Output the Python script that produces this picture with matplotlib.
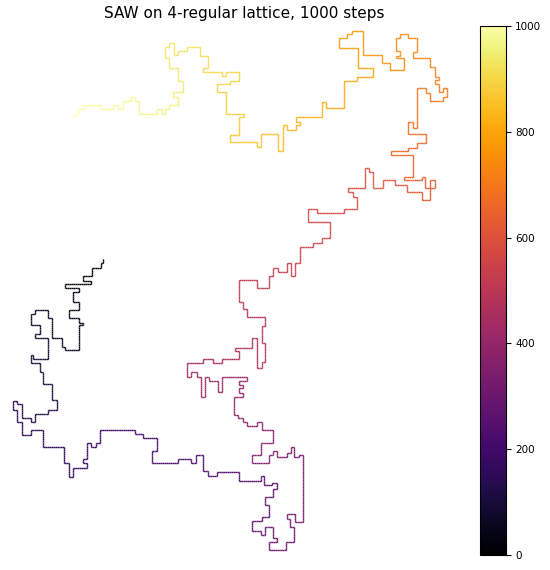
import numpy as np
import matplotlib
matplotlib.use("Agg")
import matplotlib.pyplot as plt
from matplotlib.collections import LineCollection
from matplotlib.colors import Normalize

# Walk vertices (corners of the lattice path), in drawing units.
walk_x = [103.3,103.3,100.7,100.7,91.7,91.7,83.3,83.3,90.7,90.7,65,65,78.7,78.7,73.3,73.3,79,79,69.3,69.3,79,79,82.7,82.7,79,79,65,65,61.7,61.7,52.3,52.3,47.7,47.7,35,35,30.7,30.7,40,40,35,35,47.7,47.7,33.3,33.3,30.7,30.7,40,40,43.3,43.3,52.3,52.3,56.7,56.7,48.3,48.3,35,35,30.7,30.7,22.3,22.3,17.3,17.3,13.3,13.3,17.3,17.3,22.3,22.3,30.7,30.7,43.3,43.3,64.3,64.3,69.3,69.3,73.3,73.3,86.7,86.7,82.7,82.7,86.7,86.7,90.7,90.7,96,96,100,100,135,135,143.3,143.3,156.7,156.7,152.3,152.3,178.3,178.3,191,191,195.7,195.7,203.3,203.3,208.3,208.3,217.3,217.3,239,239,260.7,260.7,264,264,271.7,271.7,277.3,277.3,273.3,273.3,265,265,269.3,269.3,261.7,261.7,252.3,252.3,260.7,260.7,265,265,273.3,273.3,277.3,277.3,269.3,269.3,286,286,294,294,290,290,286.7,286.7,295,295,303.3,303.3,299.3,299.3,294.3,294.3,290.7,290.7,286.7,286.7,277.3,277.3,273.3,273.3,269,269,252.3,252.3,260.7,260.7,273.3,273.3,261.7,261.7,256.7,256.7,247.3,247.3,242.7,242.7,238.3,238.3,234.3,234.3,242.7,242.7,239,239,242.7,242.7,239,239,247.3,247.3,221.7,221.7,217.7,217.7,209.3,209.3,205,205,200.7,200.7,196.7,196.7,191,191,186.7,186.7,203.3,203.3,213.3,213.3,221.7,221.7,239,239,235,235,251.7,251.7,257.3,257.3,261.7,261.7,265,265,261.7,261.7,265,265,247.3,247.3,243.3,243.3,239,239,256.7,256.7,269.3,269.3,273.3,273.3,278.3,278.3,286.7,286.7,290.7,290.7,295,295,300,300,312.7,312.7,321.7,321.7,330,330,308.3,308.3,316.7,316.7,344,344,356.7,356.7,352.7,352.7,347.7,347.7,364.5,364.5,369.3,369.3,373.3,373.3,382.7,382.7,395,395,407.3,407.3,421.7,421.7,429.5,429.5,435,435,425,425,421.7,421.7,404,404,412.7,412.7,390.7,390.7,408.3,408.3,417.3,417.3,426,426,408.3,408.3,412.7,412.7,417.3,417.3,426,426,430,430,443.3,443.3,447.3,447.3,443.3,443.3,439.3,439.3,435,435,439.3,439.3,435,435,430,430,412.7,412.7,417.3,417.3,408.3,408.3,400,400,395.7,395.7,400,400,395.7,395.7,404,404,390,390,381.7,381.7,363.3,363.3,351.7,351.7,347.3,347.3,339.3,339.3,358,358,373.3,373.3,356.7,356.7,344,344,326,326,321.7,321.7,296,296,300,300,296,296,286.7,286.7,282.7,282.7,278.3,278.3,260.7,260.7,256.7,256.7,230,230,239.3,239.3,244,244,225.7,225.7,217.3,217.3,230,230,239.3,239.3,225.7,225.7,222.3,222.3,203.3,203.3,208.3,208.3,200,200,186.7,186.7,178.3,178.3,174,174,169.3,169.3,165,165,169.3,169.3,178.3,178.3,183.3,183.3,173.3,173.3,178.3,178.3,169.3,169.3,165,165,161.7,161.7,156.7,156.7,139.3,139.3,135,135,130.7,130.7,122.7,122.7,118.3,118.3,113.3,113.3,100.7,100.7,83.3,83.3,78.3,78.3,74,74]
walk_y = [259.3,263.3,263.3,268.3,268.3,276,276,281,281,284,284,288.3,288.3,292.3,292.3,301.7,301.7,310,310,318.3,318.3,322.7,322.7,325.3,325.3,350,350,347.3,347.3,338.3,338.3,317.7,317.7,310,310,314,314,325,325,334,334,338.3,338.3,358.7,358.7,355.3,355.3,363.3,363.3,371.7,371.7,384,384,400,400,410,410,414.3,414.3,421.7,421.7,417.7,417.7,404.3,404.3,401,401,410,410,422.3,422.3,435,435,430,430,447.3,447.3,462.7,462.7,476.7,476.7,468.3,468.3,463.3,463.3,459.3,459.3,442.7,442.7,447.3,447.3,442.7,442.7,430,430,434.3,434.3,438.3,438.3,451,451,463.3,463.3,459,459,463.3,463.3,455,455,470.7,470.7,475.7,475.7,471.7,471.7,480.7,480.7,476,476,485,485,483.3,483.3,489.3,489.3,496.7,496.7,505,505,516.7,516.7,520.7,520.7,530.7,530.7,535,535,526.7,526.7,538.3,538.3,541.7,541.7,550,550,541.7,541.7,526.7,526.7,519.3,519.3,514,514,521.7,521.7,455,455,456.7,456.7,447.3,447.3,453,453,456.7,456.7,450.7,450.7,455,455,463.3,463.3,455,455,442.7,442.7,430,430,421.7,421.7,425.7,425.7,421.7,421.7,417.7,417.7,415,415,396.7,396.7,393.3,393.3,388.3,388.3,385,385,381,381,376.7,376.7,391.7,391.7,381,381,376.7,376.7,396.7,396.7,376.7,376.7,371.7,371.7,376.7,376.7,363.3,363.3,359.3,359.3,363.3,363.3,359.3,359.3,351,351,348.3,348.3,338.3,338.3,368.3,368.3,361.7,361.7,343.3,343.3,325.7,325.7,317.3,317.3,309.3,309.3,301.7,301.7,280,280,288.3,288.3,276,276,267.7,267.7,271.7,271.7,263.3,263.3,276,276,263.3,263.3,247.3,247.3,242.7,242.7,238.3,238.3,221.7,221.7,209.3,209.3,213.3,213.3,209.3,209.3,196.7,196.7,192.3,192.3,188.3,188.3,168.3,168.3,171.7,171.7,188.3,188.3,180,180,184.5,184.5,191.7,191.7,200,200,180,180,188.3,188.3,176.7,176.7,180,180,176.7,176.7,155,155,151,151,147.7,147.7,143.3,143.3,134,134,122.3,122.3,128,128,88.3,88.3,93.3,93.3,101,101,96.7,96.7,88.3,88.3,92.3,92.3,84.3,84.3,80,80,76.7,76.7,66.7,66.7,58.3,58.3,51.7,51.7,38.3,38.3,34.3,34.3,38.3,38.3,51,51,55.7,55.7,58.3,58.3,70,70,63.3,63.3,55,55,30.7,30.7,34.3,34.3,38.3,38.3,48.3,48.3,68.3,68.3,76.7,76.7,81,81,108.3,108.3,101.7,101.7,116.7,116.7,121.7,121.7,125,125,130,130,125,125,151,151,134.3,134.3,146.7,146.7,142.3,142.3,135,135,117.3,117.3,114,114,92.3,92.3,84,84,80.7,80.7,71.7,71.7,76,76,71.7,71.7,68.3,68.3,56,56,47.3,47.3,50.7,50.7,55,55,43.3,43.3,47.3,47.3,58.3,58.3,68.3,68.3,80.7,80.7,92.3,92.3,96.7,96.7,105,105,109.3,109.3,114,114,109.3,109.3,114,114,100.7,100.7,96.7,96.7,100.7,100.7,109.3,109.3,105,105,109.3,109.3,105,105,109.3,109.3,114,114,117.3]

n_steps = 1000
cbar_ticks = [0, 200, 400, 600, 800, 1000]
title = "SAW on 4-regular lattice, 1000 steps"

n = min(len(walk_x), len(walk_y))
x = np.asarray(walk_x[:n], float)
y = np.asarray(walk_y[:n], float)

# split each corner-to-corner run into short pieces so the colour varies along the path
px, py = [x[0]], [y[0]]
for i in range(1, n):
    L = np.hypot(x[i] - x[i-1], y[i] - y[i-1])
    k = max(1, int(np.ceil(L / 2.0)))
    t = np.linspace(0, 1, k + 1)[1:]
    px.extend(x[i-1] + (x[i] - x[i-1]) * t)
    py.extend(y[i-1] + (y[i] - y[i-1]) * t)
px = np.array(px); py = np.array(py)
pts = np.column_stack([px, py])
segs = np.stack([pts[:-1], pts[1:]], axis=1)
seglen = np.hypot(np.diff(px), np.diff(py))
cum = np.concatenate([[0], np.cumsum(seglen)])
step_at = 0.5 * (cum[:-1] + cum[1:]) / cum[-1] * n_steps

fig = plt.figure(figsize=(5.5, 5.7), dpi=100)
W, H = 550, 570
ax = fig.add_axes([10 / W, 15 / H, 468 / W, 529 / H])
norm = Normalize(0, n_steps)
lc = LineCollection(segs, cmap="inferno", norm=norm, linewidths=1.0, capstyle="butt", joinstyle="miter")
lc.set_array(step_at)
ax.add_collection(lc)
ax.set_xlim(10, 478)
ax.set_ylim(555, 26)
ax.set_aspect("equal")
ax.axis("off")
ax.set_title(title, fontsize=11)

cax = fig.add_axes([479.5 / W, 15 / H, 26 / W, 529 / H])
cb = fig.colorbar(lc, cax=cax, ticks=cbar_ticks)
cb.ax.tick_params(labelsize=7.5)

fig.savefig("out.png", dpi=100)
